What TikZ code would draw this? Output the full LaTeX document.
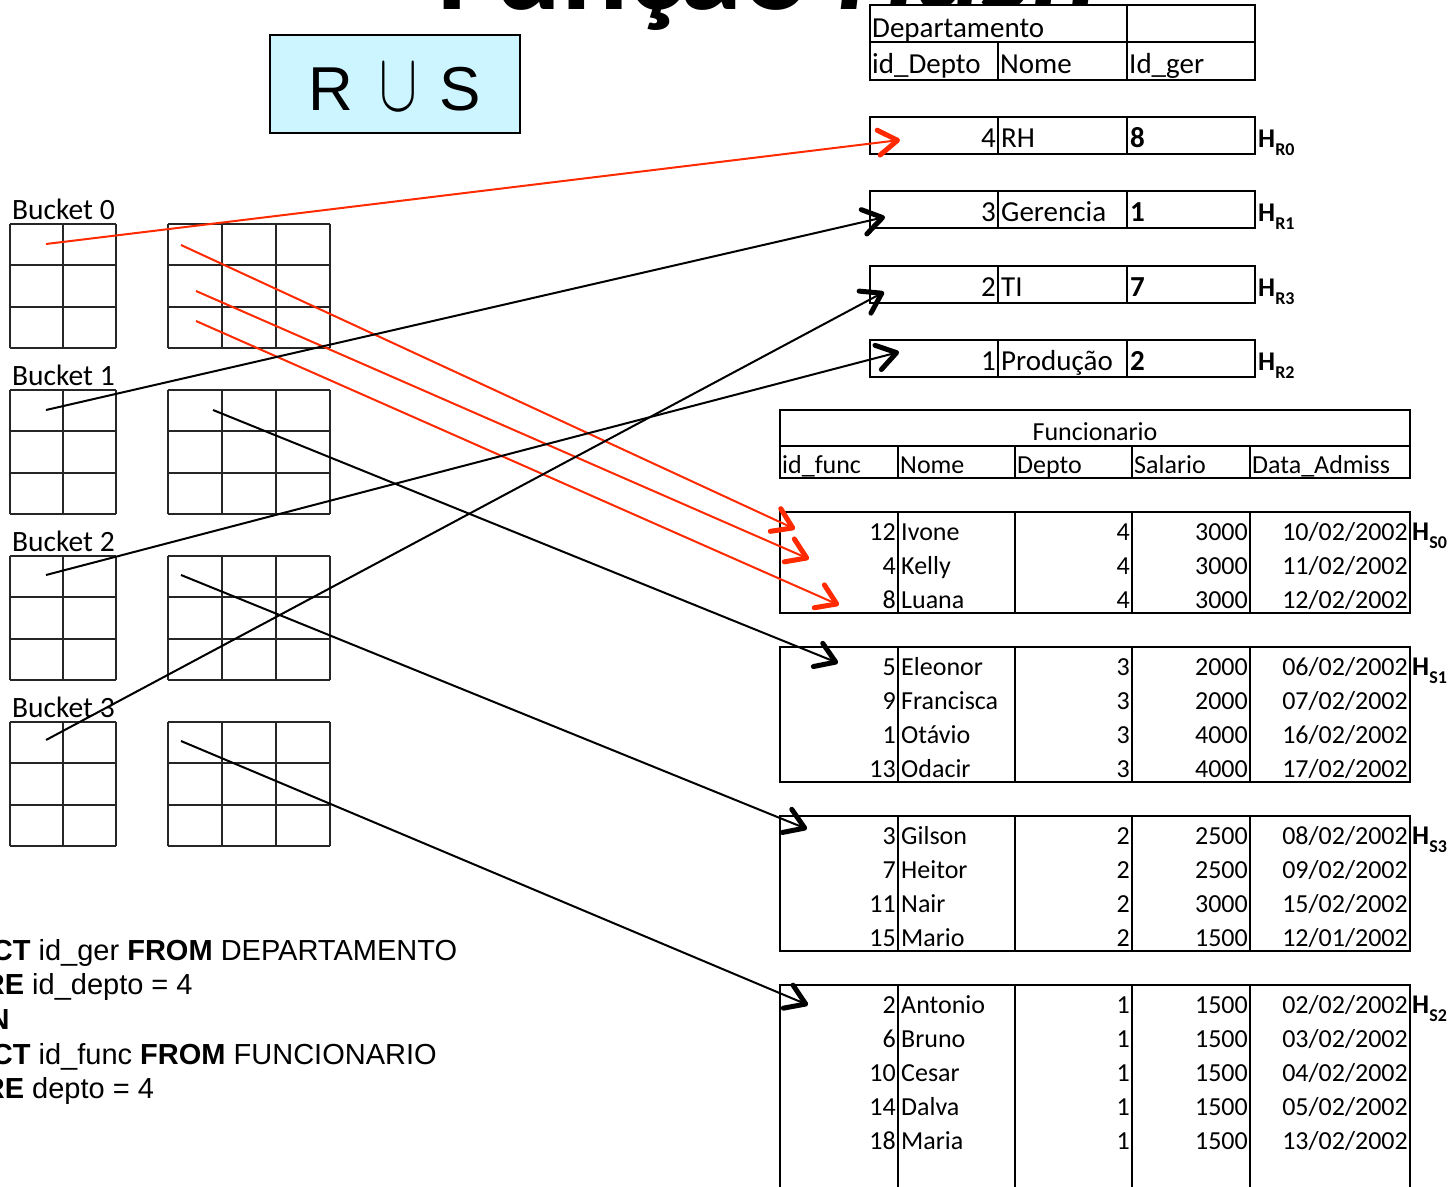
\documentclass[tikz,border=0pt]{standalone}
\usepackage{fontspec}
\setmainfont{Carlito}
\newfontfamily\arialfont{Liberation Sans}
\usetikzlibrary{arrows.meta}
\definecolor{arrRed}{HTML}{FF2A00}
\definecolor{rusFill}{HTML}{CCF5FF}

\begin{document}
\begin{tikzpicture}[x=1pt, y=-1pt,
    tabln/.style={draw, line width=2.8pt},
    gridln/.style={line width=1.4pt, black!85},
    txt/.style={inner sep=0pt, anchor=base west},
    deptxt/.style={txt, font=\fontsize{29}{30}\selectfont},
    functxt/.style={txt, font=\fontsize{26}{28}\selectfont},
    bucktxt/.style={txt, font=\fontsize{29.5}{30}\selectfont},
    hlbl/.style={txt, font=\fontsize{27}{28}\selectfont\bfseries},
    sqltxt/.style={txt, font=\arialfont\fontsize{29}{30}\selectfont},
    arr/.style={line width=2pt, -{Straight Barb[length=19pt, width=25pt, line width=5pt, round]}},
    redarr/.style={arr, arrRed},
    blkarr/.style={arr, black},
]
\useasboundingbox (0,0) rectangle (1448,1186);

% title, cut by the page edge
\node[txt, font=\fontsize{125}{125}\selectfont\bfseries] (title) at (437,9) {Função \textit{Hash}};

% R U S box
\node[draw, line width=1.8pt, fill=rusFill, minimum width=250pt, minimum height=98pt,
      text height=52pt, text depth=0pt, inner sep=0pt] (rus) at (395,84)
     {{\arialfont\fontsize{62}{62}\selectfont R}\hspace{26pt}\resizebox{38pt}{46pt}{$\cup$}\hspace{22pt}{\arialfont\fontsize{62}{62}\selectfont S}};

% Departamento
\draw[tabln, fill=white] (870,5) rectangle (1255,80);
\draw[tabln] (870,42) -- (1255,42) (1127,5) -- (1127,80) (998,42) -- (998,80);
\node[deptxt] (dtitle) at (872,37) {Departamento};
\node[deptxt] (hdid) at (872,73) {id\_Depto};
\node[deptxt] (hdnome) at (1000,73) {Nome};
\node[deptxt] (hdger) at (1129,73) {Id\_ger};

\foreach \y/\id/\nome/\ger/\h in {117/4/RH/8/R0, 191/3/Gerencia/1/R1, 266/2/TI/7/R3, 340/1/Produção/2/R2} {
  \draw[tabln, fill=white] (870,\y) rectangle (1255,\y+37);
  \draw[tabln] (998,\y) -- (998,\y+37) (1127,\y) -- (1127,\y+37);
  \node[deptxt, anchor=base east] (did\h) at (996,\y+30) {\id};
  \node[deptxt] (dnome\h) at (1001,\y+30) {\nome};
  \node[deptxt] (dger\h) at (1130,\y+30) {\textbf{\ger}};
  \node[hlbl] (h\h) at (1258,\y+30) {H\raisebox{-8pt}{\fontsize{18}{18}\selectfont\h}};
}

% Funcionario
\draw[tabln] (780,410) rectangle (1410,478);
\draw[tabln] (780,446) -- (1410,446);
\foreach \x in {898,1015,1132,1250} \draw[tabln] (\x,446) -- (\x,478);
\node[functxt, anchor=base] (ftitle) at (1095,440) {Funcionario};
\foreach \x/\c/\n in {782/id\_func/hfid, 900/Nome/hfnome, 1017/Depto/hfdep, 1134/Salario/hfsal, 1252/Data\_Admiss/hfdt}
  \node[functxt] (\n) at (\x,473) {\c};

\foreach \t/\b/\h in {512/613/S0, 647/782/S1, 816/951/S3, 985/1200/S2} {
  \draw[tabln] (780,\t) rectangle (1410,\b);
  \foreach \x in {898,1015,1132,1250} \draw[tabln] (\x,\t) -- (\x,\b);
  \node[hlbl] (h\h) at (1412,\t+28) {H\raisebox{-8pt}{\fontsize{18}{18}\selectfont\h}};
}

\foreach \y/\id/\nome/\dep/\sal/\dt [count=\i] in {
    540/12/Ivone/4/3000/{10/02/2002}, 574/4/Kelly/4/3000/{11/02/2002}, 608/8/Luana/4/3000/{12/02/2002},
    675/5/Eleonor/3/2000/{06/02/2002}, 709/9/Francisca/3/2000/{07/02/2002},
    743/1/Otávio/3/4000/{16/02/2002}, 777/13/Odacir/3/4000/{17/02/2002},
    844/3/Gilson/2/2500/{08/02/2002}, 878/7/Heitor/2/2500/{09/02/2002},
    912/11/Nair/2/3000/{15/02/2002}, 946/15/Mario/2/1500/{12/01/2002},
    1013/2/Antonio/1/1500/{02/02/2002}, 1047/6/Bruno/1/1500/{03/02/2002},
    1081/10/Cesar/1/1500/{04/02/2002}, 1115/14/Dalva/1/1500/{05/02/2002},
    1149/18/Maria/1/1500/{13/02/2002}} {
  \node[functxt, anchor=base east] (fid\i) at (896,\y) {\id};
  \node[functxt] (fnome\i) at (901,\y) {\nome};
  \node[functxt, anchor=base east] (fdep\i) at (1130,\y) {\dep};
  \node[functxt, anchor=base east] (fsal\i) at (1248,\y) {\sal};
  \node[functxt, anchor=base east] (fdt\i) at (1408,\y) {\dt};
}

% buckets
\foreach \t/\k in {224/0, 390/1, 556/2, 722/3} {
  \node[bucktxt] (bk\k) at (12,\t-5) {Bucket \k};
  \foreach \x in {10,63,116,168,222,276,330} \draw[gridln] (\x,\t) -- (\x,\t+124);
  \foreach \d in {0,41,83,124} \draw[gridln] (10,\t+\d) -- (116,\t+\d) (168,\t+\d) -- (330,\t+\d);
}

% SQL
\foreach \y/\l [count=\i] in {960/{\textbf{SELECT} id\_ger \textbf{FROM} DEPARTAMENTO},
    994/{\textbf{WHERE} id\_depto = 4}, 1029/{\textbf{UNION}},
    1064/{\textbf{SELECT} id\_func \textbf{FROM} FUNCIONARIO}, 1098/{\textbf{WHERE} depto = 4}}
  \node[sqltxt] (sql\i) at (-84,\y) {\l};

% hash pointers
\coordinate (b0l) at (46,244);
\coordinate (b0ra) at (181,245);
\coordinate (b0rb) at (196,291);
\coordinate (b0rc) at (196,321);
\coordinate (b1l) at (46,410);
\coordinate (b1r) at (213,410);
\coordinate (b2l) at (46,575);
\coordinate (b2r) at (181,575);
\coordinate (b3l) at (46,740);
\coordinate (b3r) at (181,741);
\coordinate (trh) at (900,140);
\coordinate (tger) at (885,217);
\coordinate (tti) at (884,292);
\coordinate (tprod) at (899,352);
\coordinate (tivone) at (795,529);
\coordinate (tkelly) at (809,559);
\coordinate (tluana) at (839,605);
\coordinate (teleonor) at (838,663);
\coordinate (tgilson) at (807,829);
\coordinate (tantonio) at (808,1005);

\draw[redarr] (b0l) -- (trh);
\draw[redarr] (b0ra) -- (tivone);
\draw[redarr] (b0rb) -- (tkelly);
\draw[redarr] (b0rc) -- (tluana);
\draw[blkarr] (b1l) -- (tger);
\draw[blkarr] (b1r) -- (teleonor);
\draw[blkarr] (b2l) -- (tprod);
\draw[blkarr] (b2r) -- (tgilson);
\draw[blkarr] (b3l) -- (tti);
\draw[blkarr] (b3r) -- (tantonio);
\end{tikzpicture}
\end{document}
